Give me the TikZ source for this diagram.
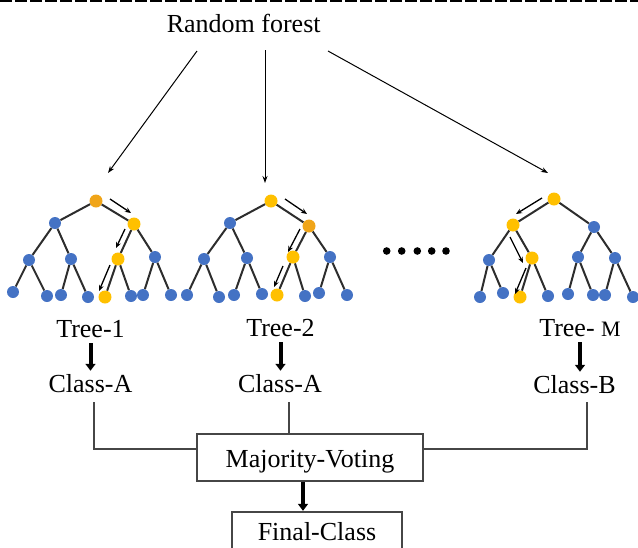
\documentclass[tikz,border=0pt]{standalone}
\usepackage{fontspec}
\setmainfont{Liberation Serif}
\usetikzlibrary{arrows.meta}
\definecolor{nblue}{RGB}{68,114,196}
\definecolor{nyellow}{RGB}{255,192,0}
\definecolor{norange}{RGB}{240,165,25}
\definecolor{edgegray}{RGB}{45,45,45}
\definecolor{linegray}{RGB}{70,70,70}
\begin{document}
\begin{tikzpicture}[x=1pt,y=-1pt,
  bnode/.style={circle,fill=nblue,inner sep=0pt,minimum size=12pt},
  ynode/.style={circle,fill=nyellow,inner sep=0pt,minimum size=13pt},
  onode/.style={circle,fill=norange,inner sep=0pt,minimum size=13pt},
  treeline/.style={draw=edgegray,line width=2pt},
  walk/.style={black,line width=1.3pt,-{Stealth[length=6pt,width=5pt]}},
  toparrow/.style={black,line width=1pt,-{Stealth[length=7pt,width=5pt]}},
  thickarrow/.style={black,line width=4pt,-{Triangle[length=7pt,width=10pt]}},
  lbl/.style={font=\fontsize{26}{30}\selectfont,inner sep=0pt,anchor=base},
  boxstyle/.style={draw=linegray,line width=1.4pt,font=\fontsize{26}{30}\selectfont,inner sep=0pt},
  conn/.style={draw=linegray,line width=1.4pt},
  topdash/.style={draw=black,line width=1.5pt,dash pattern=on 12pt off 3pt}
]
\useasboundingbox (0,0) rectangle (638,547);
\clip (0,0) rectangle (638,547);

% top dashed border
\draw[topdash] (0,1) -- (638,1);

% title
\node[lbl] (rf) at (243.7,32.3) {Random forest};
\coordinate (s1) at (197,51);  \coordinate (e1) at (108,173);
\coordinate (s2) at (265,50);  \coordinate (e2) at (265,183);
\coordinate (s3) at (328,51);  \coordinate (e3) at (548,173);
\draw[toparrow] (s1) -- (e1);
\draw[toparrow] (s2) -- (e2);
\draw[toparrow] (s3) -- (e3);

% ---- Tree 1
\node[onode] (a0) at (96,201) {};
\node[bnode] (aL) at (55,223) {};
\node[ynode] (aR) at (134,224) {};
\node[bnode] (aLL) at (29,260) {};
\node[bnode] (aLR) at (71,259) {};
\node[ynode] (aRL) at (118,259) {};
\node[bnode] (aRR) at (155,257) {};
\node[bnode] (aLLL) at (13,292) {};
\node[bnode] (aLLR) at (47,296) {};
\node[bnode] (aLRL) at (61,295) {};
\node[bnode] (aLRR) at (88,297) {};
\node[ynode] (aRLL) at (105,297) {};
\node[bnode] (aRLR) at (131,296) {};
\node[bnode] (aRRL) at (143,295) {};
\node[bnode] (aRRR) at (171,295) {};

% ---- Tree 2
\node[ynode] (b0) at (271,201) {};
\node[bnode] (bL) at (230,223) {};
\node[onode] (bR) at (309,226) {};
\node[bnode] (bLL) at (204,259) {};
\node[bnode] (bLR) at (247,258) {};
\node[ynode] (bRL) at (293,257) {};
\node[bnode] (bRR) at (330,257) {};
\node[bnode] (bLLL) at (187,295) {};
\node[bnode] (bLLR) at (219,297) {};
\node[bnode] (bLRL) at (234,295) {};
\node[bnode] (bLRR) at (262,294) {};
\node[ynode] (bRLL) at (277,295) {};
\node[bnode] (bRLR) at (305,296) {};
\node[bnode] (bRRL) at (319,293) {};
\node[bnode] (bRRR) at (347,295) {};

% ---- Tree M
\node[ynode] (c0) at (554,199) {};
\node[ynode] (cL) at (513,225) {};
\node[bnode] (cR) at (594,227) {};
\node[bnode] (cLL) at (489,260) {};
\node[ynode] (cLR) at (532,258) {};
\node[bnode] (cRL) at (578,257) {};
\node[bnode] (cRR) at (615,258) {};
\node[bnode] (cLLL) at (480,297) {};
\node[bnode] (cLLR) at (503,293) {};
\node[ynode] (cLRL) at (520,297) {};
\node[bnode] (cLRR) at (548,296) {};
\node[bnode] (cRLL) at (568,294) {};
\node[bnode] (cRLR) at (593,295) {};
\node[bnode] (cRRL) at (605,295) {};
\node[bnode] (cRRR) at (633,297) {};

\foreach \t in {a,b,c}{
  \foreach \p/\c in {0/L,0/R,L/LL,L/LR,R/RL,R/RR,LL/LLL,LL/LLR,LR/LRL,LR/LRR,RL/RLL,RL/RLR,RR/RRL,RR/RRR}
    \draw[treeline] (\t\p) -- (\t\c);
}

% decision path arrows
\foreach \n/\sx/\sy/\ex/\ey in {
  1/110/199/131/213, 2/125/229/116/248, 3/110/265/99/291,
  4/285/199/307/214, 5/300/229/288/252, 6/283/266/274/287,
  7/542/198/516/214, 8/510/237/523/263, 9/526/268/515/294}{
  \coordinate (ps\n) at (\sx,\sy);
  \coordinate (pe\n) at (\ex,\ey);
  \draw[walk] (ps\n) -- (pe\n);
}

% dots between trees
\foreach \x in {386.7,401.7,417.3,431.7,446}
  \fill[black] (\x,251) circle (3.8pt);

% tree labels and classes
\node[lbl] (t1) at (90.5,337) {Tree-1};
\node[lbl] (t2) at (280.5,336) {Tree-2};
\node[lbl] (t3) at (580,336) {Tree- {\fontsize{22}{26}\selectfont M}};
\node[lbl] (k1) at (90.5,392) {Class-A};
\node[lbl] (k2) at (280,392) {Class-A};
\node[lbl] (k3) at (574.5,393) {Class-B};

\draw[thickarrow] ([yshift=-6pt]t1.south) -- ([yshift=3pt]t1.south |- k1.north);
\draw[thickarrow] ([yshift=-6pt]t2.south) -- ([yshift=3pt]t2.south |- k2.north);
\draw[thickarrow] ([yshift=-6pt]t3.south) -- ([yshift=3pt]t3.south |- k3.north);

% majority voting box
\node[boxstyle,minimum width=226pt,minimum height=47pt,text height=20pt,text depth=0pt] (mv) at (310,457.5) {Majority-Voting};
\node[boxstyle,minimum width=170pt,minimum height=56pt,text height=12pt,text depth=12pt] (fc) at (317,540) {Final-Class};

\coordinate (q1) at (94,402);  \coordinate (j1) at (94,449);
\coordinate (q2) at (289,402);
\coordinate (q3) at (587,402); \coordinate (j3) at (587,449);
\draw[conn] (q1) -- (j1) -- (j1 -| mv.west);
\draw[conn] (q2) -- (q2 |- mv.north);
\draw[conn] (q3) -- (j3) -- (j3 -| mv.east);

\coordinate (fa) at (303,0);
\draw[thickarrow] (fa |- mv.south) -- ([yshift=0.5pt]fa |- fc.north);
\end{tikzpicture}
\end{document}
